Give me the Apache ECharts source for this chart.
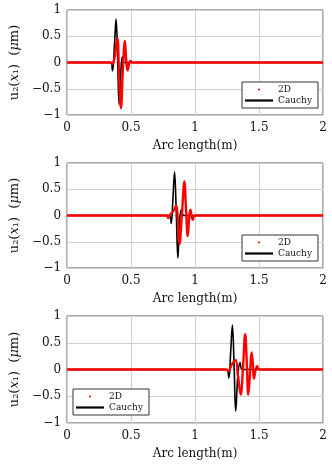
<!DOCTYPE html>
<html>
<head>
<meta charset="utf-8">
<script src="https://cdn.jsdelivr.net/npm/echarts@6/dist/echarts.min.js"></script>
<style>
html,body{margin:0;padding:0;background:#fff;}
#chart{width:332px;height:468px;}
</style>
</head>
<body>
<div id="chart"></div>
<script>
// ---- Data ----
const seriesNames = ['2D', 'Cauchy'];
const xTickValues = [0, 0.5, 1, 1.5, 2];
const yTickValues = [-1, -0.5, 0, 0.5, 1];

// Panel 1
const cauchy1 = [[0,0],[0.34,0],[0.355,-0.16],[0.37,0.3],[0.383,0.83],[0.395,0.1],[0.407,-0.8],[0.42,-0.2],[0.432,0.11],[0.445,0],[2,0]];
const twoD1 = [[0,0],[0.34,0],[0.352,-0.03],[0.37,0.08],[0.393,0.46],[0.407,-0.3],[0.421,-0.87],[0.437,-0.1],[0.452,0.41],[0.462,0.05],[0.473,-0.15],[0.487,0],[0.498,0.03],[0.51,0],[2,0]];
// Panel 2
const cauchy2 = [[0,0],[0.80,0],[0.814,-0.15],[0.827,0.3],[0.84,0.83],[0.853,0.1],[0.866,-0.81],[0.878,-0.2],[0.891,0.11],[0.905,0.01],[0.915,0],[2,0]];
const twoD2 = [[0,0],[0.78,0],[0.79,-0.05],[0.80,0],[0.835,0.1],[0.853,0.19],[0.866,-0.1],[0.878,-0.55],[0.897,0],[0.917,0.65],[0.93,0.1],[0.943,-0.39],[0.954,-0.05],[0.964,0.11],[0.982,-0.08],[1.0,0],[2,0]];
// Panel 3
const cauchy3 = [[0,0],[1.245,0],[1.264,-0.16],[1.278,0.3],[1.292,0.83],[1.305,0.1],[1.318,-0.78],[1.335,-0.1],[1.352,0.13],[1.37,0],[2,0]];
const twoD3 = [[0,0],[1.24,0],[1.26,-0.03],[1.285,0.08],[1.316,0.18],[1.335,-0.1],[1.357,-0.47],[1.375,0.05],[1.392,0.66],[1.405,0.1],[1.416,-0.47],[1.43,-0.05],[1.442,0.32],[1.452,0.1],[1.46,-0.17],[1.473,-0.02],[1.486,0.06],[1.5,0],[2,0]];

const panels = [
  {cauchy: cauchy1, twoD: twoD1},
  {cauchy: cauchy2, twoD: twoD2},
  {cauchy: cauchy3, twoD: twoD3}
];

// ---- Layout ----
const FONT = 'DejaVu Serif';
const gridTops = [10, 163, 316];
const gridHeights = [105, 105, 107];
const legendPos = [
  {left: 242, top: 82},
  {left: 242, top: 235},
  {left: 73, top: 389}
];

const fmt = v => String(v).replace('-', '\u2212');

const grids = [], xAxes = [], yAxes = [], series = [], legends = [];
panels.forEach((p, i) => {
  grids.push({left: 65, top: gridTops[i], width: 258, height: gridHeights[i],
    show: true, borderColor: '#555', borderWidth: 1, backgroundColor: 'transparent'});
  xAxes.push({
    type: 'value', gridIndex: i, min: xTickValues[0], max: xTickValues[xTickValues.length-1], interval: 0.5,
    name: 'Arc length(m)', nameLocation: 'middle', nameGap: 25,
    nameTextStyle: {fontFamily: FONT, fontSize: 12, color: '#111'},
    axisLine: {show: false}, axisTick: {show: false},
    axisLabel: {fontFamily: FONT, fontSize: 12, color: '#111', margin: 7, formatter: fmt},
    splitLine: {show: true, lineStyle: {color: '#d0d0d0', width: 1}}
  });
  yAxes.push({
    type: 'value', gridIndex: i, min: yTickValues[0], max: yTickValues[yTickValues.length-1], interval: 0.5,
    name: '{n|u\u2082(}{i|x}{n|\u2081)  (}{i|\u03bc}{n|m)}', nameLocation: 'middle', nameGap: 43, nameRotate: 90,
    nameTextStyle: {fontFamily: FONT, fontSize: 13, color: '#111',
      rich: {n: {fontFamily: FONT, fontSize: 13, color: '#111'}, i: {fontFamily: FONT, fontSize: 13, fontStyle: 'italic', color: '#111'}}},
    axisLine: {show: false}, axisTick: {show: false},
    axisLabel: {fontFamily: FONT, fontSize: 12, color: '#111', margin: 6, formatter: fmt},
    splitLine: {show: true, lineStyle: {color: '#d0d0d0', width: 1}}
  });
  series.push({
    name: 'Cauchy', type: 'line', xAxisIndex: i, yAxisIndex: i, data: p.cauchy,
    smooth: 0.4, showSymbol: false, lineStyle: {color: '#000', width: 1.6}, itemStyle: {color: '#000'},
    z: 2, animation: false
  });
  series.push({
    name: '2D', type: 'line', xAxisIndex: i, yAxisIndex: i, data: p.twoD,
    smooth: 0.4, showSymbol: false, lineStyle: {color: '#ff0000', width: 2.4}, itemStyle: {color: '#ff0000'},
    z: 3, animation: false
  });
  legends.push({
    left: legendPos[i].left, top: legendPos[i].top, orient: 'vertical',
    data: [{name: '2D', icon: 'circle', itemStyle: {color: '#ff0000'}}, {name: 'Cauchy', icon: 'rect', itemStyle: {color: '#000'}}],
    itemWidth: 28, itemHeight: 2.2, itemGap: 2, padding: [3, 6, 3, 3],
    borderColor: '#333', borderWidth: 1, backgroundColor: '#fff',
    textStyle: {fontFamily: FONT, fontSize: 9, color: '#111'},
    selectedMode: false
  });
});

const chart = echarts.init(document.getElementById('chart'), null, {renderer: 'canvas'});
chart.setOption({
  animation: false,
  grid: grids, xAxis: xAxes, yAxis: yAxes, series: series, legend: legends
});
</script>
</body>
</html>
